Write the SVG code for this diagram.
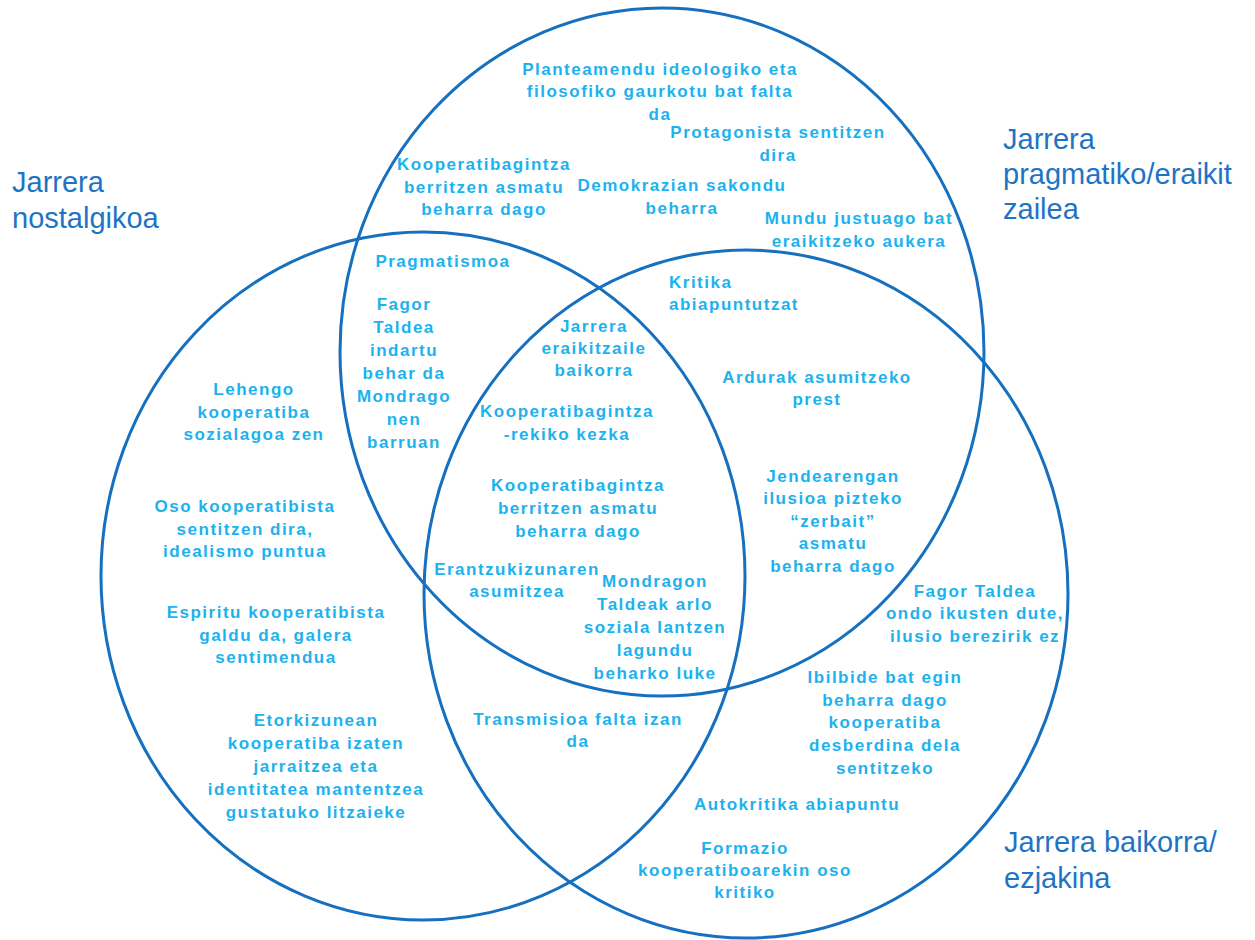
<svg xmlns="http://www.w3.org/2000/svg" width="1255" height="940" viewBox="0 0 1255 940">
<style>
.set{fill:none;stroke:#1670c0;stroke-width:3}
.lab{font-family:"Liberation Sans",Arial,sans-serif;font-size:29px;fill:#1e74c4}
.t{font-family:"Liberation Sans",Arial,sans-serif;font-size:17px;font-weight:bold;fill:#1cb2ee;letter-spacing:1.5px;text-anchor:middle}
.tl{text-anchor:start}
</style>
<rect width="1255" height="940" fill="#ffffff"/>
<g id="sets">
<ellipse id="set-nostalgikoa" class="set" cx="423" cy="576" rx="322" ry="344"/>
<ellipse id="set-pragmatiko" class="set" cx="662" cy="352" rx="322" ry="344"/>
<ellipse id="set-baikorra" class="set" cx="746" cy="594" rx="322" ry="344"/>
</g>
<g id="labels">
<text id="label-nostalgikoa" class="lab"><tspan x="12" y="192">Jarrera</tspan><tspan x="12" y="228">nostalgikoa</tspan></text>
<text id="label-pragmatiko" class="lab"><tspan x="1003" y="149">Jarrera</tspan><tspan x="1003" y="184">pragmatiko/eraikit</tspan><tspan x="1003" y="219">zailea</tspan></text>
<text id="label-baikorra" class="lab"><tspan x="1004" y="852">Jarrera baikorra/</tspan><tspan x="1004" y="888">ezjakina</tspan></text>
</g>
<g id="n1"><text class="t"><tspan x="660" y="75">Planteamendu ideologiko eta</tspan><tspan x="660" y="97">filosofiko gaurkotu bat falta</tspan><tspan x="660" y="120">da</tspan></text></g>
<g id="n2"><text class="t"><tspan x="778" y="138">Protagonista sentitzen</tspan><tspan x="778" y="161">dira</tspan></text></g>
<g id="n3"><text class="t"><tspan x="484" y="170">Kooperatibagintza</tspan><tspan x="484" y="193">berritzen asmatu</tspan><tspan x="484" y="215">beharra dago</tspan></text></g>
<g id="n4"><text class="t"><tspan x="682" y="191">Demokrazian sakondu</tspan><tspan x="682" y="214">beharra</tspan></text></g>
<g id="n5"><text class="t"><tspan x="859" y="224">Mundu justuago bat</tspan><tspan x="859" y="247">eraikitzeko aukera</tspan></text></g>
<g id="n6"><text class="t"><tspan x="443" y="267">Pragmatismoa</tspan></text></g>
<g id="n7"><text class="t"><tspan x="404" y="310">Fagor</tspan><tspan x="404" y="333">Taldea</tspan><tspan x="404" y="356">indartu</tspan><tspan x="404" y="379">behar da</tspan><tspan x="404" y="402">Mondrago</tspan><tspan x="404" y="425">nen</tspan><tspan x="404" y="448">barruan</tspan></text></g>
<g id="n8"><text class="t"><tspan x="254" y="395">Lehengo</tspan><tspan x="254" y="418">kooperatiba</tspan><tspan x="254" y="440">sozialagoa zen</tspan></text></g>
<g id="n9"><text class="t tl"><tspan x="669" y="288">Kritika</tspan><tspan x="669" y="310">abiapuntutzat</tspan></text></g>
<g id="n10"><text class="t"><tspan x="594" y="332">Jarrera</tspan><tspan x="594" y="354">eraikitzaile</tspan><tspan x="594" y="376">baikorra</tspan></text></g>
<g id="n11"><text class="t"><tspan x="567" y="417">Kooperatibagintza</tspan><tspan x="567" y="440">-rekiko kezka</tspan></text></g>
<g id="n12"><text class="t"><tspan x="817" y="383">Ardurak asumitzeko</tspan><tspan x="817" y="405">prest</tspan></text></g>
<g id="n13"><text class="t"><tspan x="245" y="512">Oso kooperatibista</tspan><tspan x="245" y="535">sentitzen dira,</tspan><tspan x="245" y="557">idealismo puntua</tspan></text></g>
<g id="n14"><text class="t"><tspan x="276" y="618">Espiritu kooperatibista</tspan><tspan x="276" y="641">galdu da, galera</tspan><tspan x="276" y="663">sentimendua</tspan></text></g>
<g id="n15"><text class="t"><tspan x="578" y="491">Kooperatibagintza</tspan><tspan x="578" y="514">berritzen asmatu</tspan><tspan x="578" y="537">beharra dago</tspan></text></g>
<g id="n16"><text class="t"><tspan x="517" y="575">Erantzukizunaren</tspan><tspan x="517" y="597">asumitzea</tspan></text></g>
<g id="n17"><text class="t"><tspan x="655" y="587">Mondragon</tspan><tspan x="655" y="610">Taldeak arlo</tspan><tspan x="655" y="633">soziala lantzen</tspan><tspan x="655" y="656">lagundu</tspan><tspan x="655" y="679">beharko luke</tspan></text></g>
<g id="n18"><text class="t"><tspan x="833" y="482">Jendearengan</tspan><tspan x="833" y="504">ilusioa pizteko</tspan><tspan x="833" y="527">“zerbait”</tspan><tspan x="833" y="549">asmatu</tspan><tspan x="833" y="572">beharra dago</tspan></text></g>
<g id="n19"><text class="t"><tspan x="975" y="597">Fagor Taldea</tspan><tspan x="975" y="619">ondo ikusten dute,</tspan><tspan x="975" y="642">ilusio berezirik ez</tspan></text></g>
<g id="n20"><text class="t"><tspan x="885" y="683">Ibilbide bat egin</tspan><tspan x="885" y="706">beharra dago</tspan><tspan x="885" y="728">kooperatiba</tspan><tspan x="885" y="751">desberdina dela</tspan><tspan x="885" y="774">sentitzeko</tspan></text></g>
<g id="n21"><text class="t"><tspan x="316" y="726">Etorkizunean</tspan><tspan x="316" y="749">kooperatiba izaten</tspan><tspan x="316" y="772">jarraitzea eta</tspan><tspan x="316" y="795">identitatea mantentzea</tspan><tspan x="316" y="818">gustatuko litzaieke</tspan></text></g>
<g id="n22"><text class="t"><tspan x="578" y="725">Transmisioa falta izan</tspan><tspan x="578" y="747">da</tspan></text></g>
<g id="n23"><text class="t"><tspan x="797" y="810">Autokritika abiapuntu</tspan></text></g>
<g id="n24"><text class="t"><tspan x="745" y="854">Formazio</tspan><tspan x="745" y="876">kooperatiboarekin oso</tspan><tspan x="745" y="898">kritiko</tspan></text></g>
<g id="connectors"></g>
</svg>
